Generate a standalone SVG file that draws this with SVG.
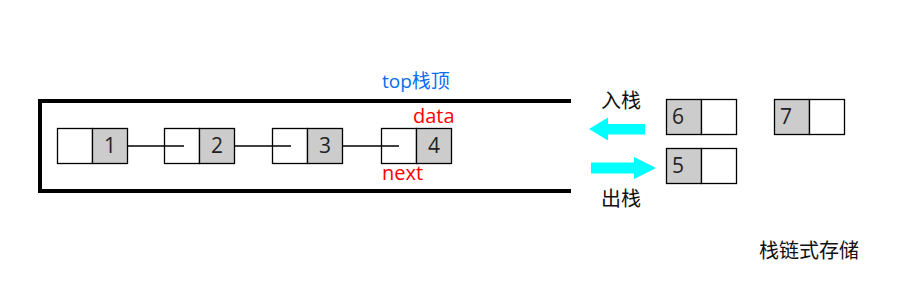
<svg xmlns="http://www.w3.org/2000/svg" width="920" height="300" viewBox="0 0 920 300">
<style>
.w{fill:#fff;stroke:#000;stroke-width:1.3}
.g{fill:#ccc;stroke:#000;stroke-width:1.3}
.n{font-family:"Open Sans","Noto Sans",sans-serif;font-size:21px;fill:#222}
.c{font-family:"Noto Sans CJK SC",sans-serif;font-size:20px;fill:#111}
.lnk{stroke:#000;stroke-width:1.3;fill:none}
.arr{fill:#00ffff}
</style>
<rect width="920" height="300" fill="#fff"/>
<g id="stack">
<path d="M571,101 H40 V191 H571" fill="none" stroke="#000" stroke-width="4"/>
</g>
<g id="node1"><rect class="w" x="57.5" y="128.5" width="35" height="35"/><rect class="g" x="92.5" y="128.5" width="35" height="35"/><text class="n" x="110" y="153" text-anchor="middle">1</text></g>
<g id="node2"><rect class="w" x="164.5" y="128.5" width="35" height="35"/><rect class="g" x="199.5" y="128.5" width="35" height="35"/><text class="n" x="217" y="153" text-anchor="middle">2</text></g>
<g id="node3"><rect class="w" x="272.5" y="128.5" width="35" height="35"/><rect class="g" x="307.5" y="128.5" width="35" height="35"/><text class="n" x="325" y="153" text-anchor="middle">3</text></g>
<g id="node4"><rect class="w" x="381.5" y="128.5" width="35" height="35"/><rect class="g" x="416.5" y="128.5" width="35" height="35"/><text class="n" x="434" y="153" text-anchor="middle">4</text></g>
<g id="node6"><rect class="g" x="666.5" y="99.5" width="35" height="35"/><rect class="w" x="701.5" y="99.5" width="35" height="35"/><text class="n" x="672" y="124">6</text></g>
<g id="node7"><rect class="g" x="774.5" y="99.5" width="35" height="35"/><rect class="w" x="809.5" y="99.5" width="35" height="35"/><text class="n" x="780" y="124">7</text></g>
<g id="node5"><rect class="g" x="666.5" y="148.5" width="35" height="35"/><rect class="w" x="701.5" y="148.5" width="35" height="35"/><text class="n" x="672" y="173">5</text></g>
<g id="connectors">
<line class="lnk" x1="127.5" y1="146" x2="184" y2="146"/>
<line class="lnk" x1="234.5" y1="146" x2="291" y2="146"/>
<line class="lnk" x1="342" y1="146" x2="399" y2="146"/>
</g>
<g id="arrows">
<polygon class="arr" points="589,129 608,117.5 608,124 645,124 645,134.5 608,134.5 608,140.5"/>
<polygon class="arr" points="591,162.5 634,162.5 634,157 656,168 634,179 634,173.5 591,173.5"/>
</g>
<g id="labels">
<text x="382" y="88" font-family="'Open Sans','Noto Sans CJK SC',sans-serif" font-size="19" fill="#0a6cf0">top栈顶</text>
<text x="413" y="123" font-family="'Open Sans',sans-serif" font-size="20" fill="#ff0000">data</text>
<text x="382" y="180" font-family="'Open Sans',sans-serif" font-size="20" fill="#ff0000">next</text>
<text class="c" x="601" y="108">入栈</text>
<text class="c" x="601" y="206">出栈</text>
<text class="c" x="759" y="258" font-size="21">栈链式存储</text>
</g>
</svg>
